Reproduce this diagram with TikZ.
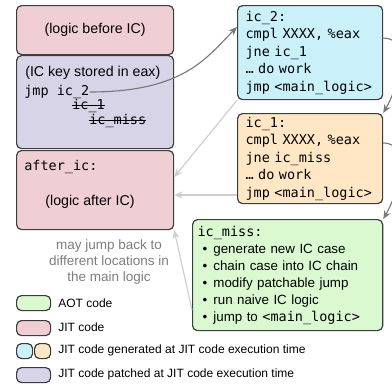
\documentclass[tikz,border=0pt]{standalone}
\usepackage{fontspec}
\setmainfont{Liberation Sans}
\setmonofont{DejaVu Sans Mono}
\usetikzlibrary{arrows.meta}

\definecolor{jitpink}{RGB}{239,207,212}
\definecolor{patchpurple}{RGB}{216,212,232}
\definecolor{genblue}{RGB}{202,240,250}
\definecolor{genorange}{RGB}{255,231,197}
\definecolor{aotgreen}{RGB}{218,249,209}
\definecolor{boxline}{RGB}{60,60,60}
\definecolor{arrowdark}{RGB}{120,120,120}
\definecolor{arrowlight}{RGB}{205,205,205}
\definecolor{notegray}{RGB}{125,125,125}

\newcommand{\code}[1]{{\fontsize{9.6pt}{12pt}\selectfont\ttfamily #1}}

\tikzset{
  box/.style={draw=boxline,line width=0.85pt,rounded corners=3.5pt,
    anchor=north west,inner sep=0pt},
  codebox/.style={box,align=left,inner xsep=0.2cm,inner ysep=0pt,
    text width=3.225cm,minimum width=3.625cm,
    font=\fontsize{9.6pt}{12.45pt}\selectfont\ttfamily},
  txt/.style={anchor=west,inner sep=0pt},
  strike/.style={line width=0.6pt},
  darrow/.style={draw=arrowdark,line width=0.8pt,
    -{Stealth[length=6pt,width=5pt]}},
  larrow/.style={draw=arrowlight,line width=0.8pt,
    -{Stealth[length=6pt,width=5pt]}},
  legendbox/.style={box,minimum height=0.375cm,minimum width=0.85cm},
  legendtxt/.style={txt,font=\fontsize{8.55pt}{10pt}\selectfont}
}

\begin{document}
\begin{tikzpicture}[x=0.025cm,y=-0.025cm,
    every node/.append style={font=\fontsize{10.1pt}{12.45pt}\selectfont}]
  \useasboundingbox (0,0) rectangle (392,388);

  % main logic (left column)
  \node[box,fill=jitpink,minimum width=3.925cm,minimum height=1.225cm]
    (before) at (16,5) {(logic before IC)};
  \node[box,fill=patchpurple,minimum width=3.925cm,minimum height=2.325cm]
    (patched) at (16,55) {};
  \node[txt] (key) at (25,73) {(IC key stored in eax)};
  \node[txt] (jmp) at (24,92) {\code{jmp ic\_2}};
  \node[txt] (old1) at (72,106) {\code{ic\_1}};
  \node[txt] (old2) at (89,121) {\code{ic\_miss}};
  \draw[strike] ([yshift=2.6pt]old1.base west) -- ([yshift=2.6pt]old1.base east);
  \draw[strike] ([yshift=2.6pt]old2.base west) -- ([yshift=2.6pt]old2.base east);
  \node[box,fill=jitpink,minimum width=3.925cm,minimum height=1.975cm]
    (after) at (16,150) {};
  \node[txt] (afterlbl) at (24,167) {\code{after\_ic:}};
  \node[inner sep=0pt] (afterlogic) at (90,202) {(logic after IC)};

  \node[align=center,text=notegray,inner sep=0pt,
    font=\fontsize{9.6pt}{11.7pt}\selectfont] (note) at (109,262)
    {may jump back to\\different locations in\\the main logic};

  % IC chain (right column)
  \node[codebox,fill=genblue,minimum height=2.35cm] (ic2) at (237,5)
    {ic\_2:\\cmpl XXXX, \%eax\\jne ic\_1\\… do work\\jmp <main\_logic>};
  \node[codebox,fill=genorange,minimum height=2.25cm] (ic1) at (237,113)
    {ic\_1:\\cmpl XXXX, \%eax\\jne ic\_miss\\… do work\\jmp <main\_logic>};
  \node[box,fill=aotgreen,align=left,inner xsep=0.125cm,text width=4.5cm,
    minimum width=4.75cm,minimum height=2.775cm,
    font=\fontsize{9.5pt}{12.1pt}\selectfont] (miss) at (192,219)
    {\code{ic\_miss:}\\
     \hspace*{3.6pt}\textbullet\hspace{4.3pt}generate new IC case\\
     \hspace*{3.6pt}\textbullet\hspace{4.3pt}chain case into IC chain\\
     \hspace*{3.6pt}\textbullet\hspace{4.3pt}modify patchable jump\\
     \hspace*{3.6pt}\textbullet\hspace{4.3pt}run naive IC logic\\
     \hspace*{3.6pt}\textbullet\hspace{4.3pt}jump to \code{<main\_logic>}};

  % jumps
  \draw[darrow] (jmp.east) .. controls +(95,0) and +(-30,30) .. (ic2.west |- 0,27);
  \draw[darrow] (ic2.east |- 0,38) to[out=0,in=60] (ic1.north east);
  \draw[darrow] (ic1.east |- 0,143) to[out=0,in=60] (miss.north east);
  \draw[larrow] (ic2.south west) -- (after.east |- 0,177);
  \draw[larrow] (ic1.west |- 0,195) -- (after.east |- 0,195);
  \draw[larrow] (miss.west |- 0,310) -- (after.south east);

  % legend
  \node[legendbox,fill=aotgreen] (aotkey) at (16,295) {};
  \node[legendtxt] (aotlbl) at (58,303) {AOT code};
  \node[legendbox,fill=jitpink] (jitkey) at (16,320) {};
  \node[legendtxt] (jitlbl) at (58,327.5) {JIT code};
  \node[legendbox,fill=genblue,minimum width=0.4cm] (genkeya) at (16,343) {};
  \node[legendbox,fill=genorange,minimum width=0.4cm] (genkeyb) at (34,343) {};
  \node[legendtxt] (genlbl) at (58,350.5) {JIT code generated at JIT code execution time};
  \node[legendbox,fill=patchpurple] (patchkey) at (16,367) {};
  \node[legendtxt] (patchlbl) at (58,374.5) {JIT code patched at JIT code execution time};
\end{tikzpicture}
\end{document}
